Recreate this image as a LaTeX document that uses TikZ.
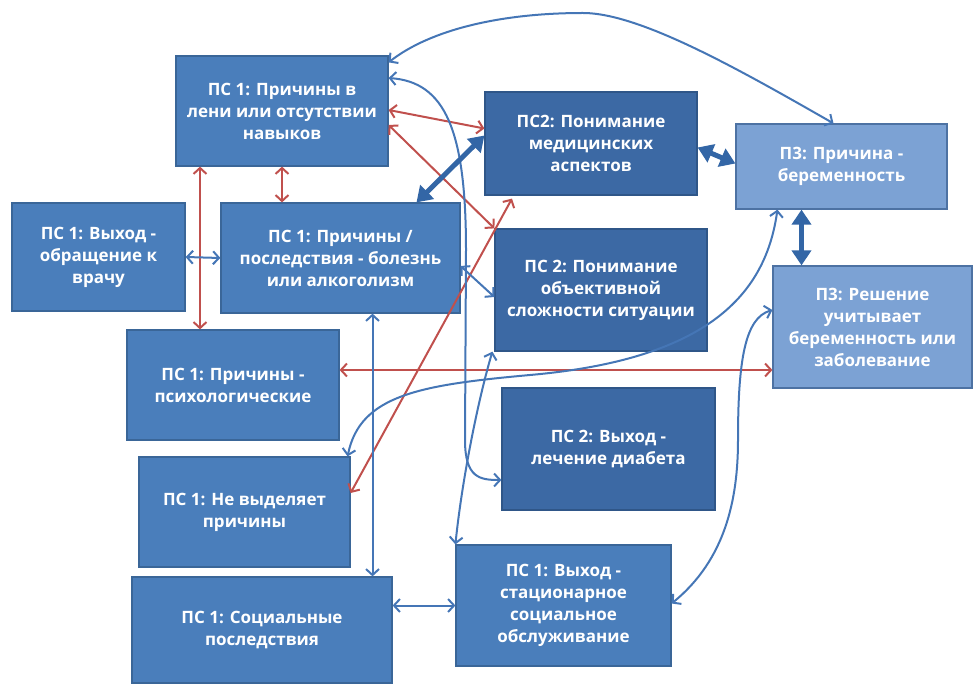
\documentclass[tikz,border=0pt]{standalone}
\usepackage{fontspec}
\setsansfont{Open Sans}
\usepackage{tikz}
\usetikzlibrary{calc}
\usetikzlibrary{arrows.meta}
\usetikzlibrary{positioning}
\definecolor{mid}{HTML}{4A7EBB}
\definecolor{midb}{HTML}{3A6698}
\definecolor{dk}{HTML}{3C69A4}
\definecolor{dkb}{HTML}{2F5688}
\definecolor{lt}{HTML}{7CA2D4}
\definecolor{ltb}{HTML}{4D72A3}
\definecolor{rd}{HTML}{C0504D}
\definecolor{ln}{HTML}{4576B6}
\definecolor{thk}{HTML}{3366A6}
\tikzset{PS/.style={rectangle,fill=mid,draw=midb,line width=1.2pt,text=white,align=center,inner sep=2pt,font=\sffamily\bfseries\fontsize{17}{22}\selectfont}}
\tikzset{PSd/.style={PS,fill=dk,draw=dkb}}
\tikzset{P3/.style={PS,fill=lt,draw=ltb}}
\tikzset{ra/.style={draw=rd,line width=2pt,{Straight Barb[length=6pt,width=13pt]}-{Straight Barb[length=6pt,width=13pt]}}}
\tikzset{ba/.style={draw=ln,line width=2pt,{Straight Barb[length=6pt,width=13pt]}-{Straight Barb[length=6pt,width=13pt]}}}
\tikzset{BA/.style={draw=thk,line width=5pt,{Triangle[length=15pt,width=19pt]}-{Triangle[length=15pt,width=19pt]}}}

\begin{document}
\begin{tikzpicture}[x=1pt,y=-1pt]
\useasboundingbox (0,0) rectangle (974,684);

\node[PS,minimum width=212pt,minimum height=110pt] (A) at (282,111) {ПС 1: Причины в\\лени или отсутствии\\навыков};
\node[PS,minimum width=173pt,minimum height=108pt] (B) at (98.5,257) {ПС 1: Выход -\\обращение к\\врачу};
\node[PS,minimum width=239pt,minimum height=110pt] (C) at (340.5,258) {ПС 1: Причины /\\последствия - болезнь\\или алкоголизм};
\node[PSd,minimum width=212pt,minimum height=103pt] (D) at (591,143.5) {ПС2: Понимание\\медицинских\\аспектов};
\node[PSd,minimum width=212pt,minimum height=122pt] (E) at (601,290) {ПС 2: Понимание\\объективной\\сложности ситуации};
\node[P3,minimum width=211pt,minimum height=85pt] (F) at (841.5,166.5) {П3: Причина -\\беременность};
\node[P3,minimum width=199pt,minimum height=122pt] (G) at (872.5,327) {П3: Решение\\учитывает\\беременность или\\заболевание};
\node[PS,minimum width=212pt,minimum height=110pt] (H) at (233,385) {ПС 1: Причины -\\психологические};
\node[PS,minimum width=211pt,minimum height=110pt] (I) at (244.5,512) {ПС 1: Не выделяет\\причины};
\node[PS,minimum width=260pt,minimum height=106pt] (J) at (262,630) {ПС 1: Социальные\\последствия};
\node[PSd,minimum width=213pt,minimum height=122pt] (K) at (608.5,449) {ПС 2: Выход -\\лечение диабета};
\node[PS,minimum width=215pt,minimum height=121pt] (L) at (563.5,605.5) {ПС 1: Выход -\\стационарное\\социальное\\обслуживание};

% red links
\draw[ra] ([yshift=1pt]A.east) -- ([yshift=15pt]D.west);
\draw[ra] ([yshift=-14pt]A.east) -- (E.north west);
\draw[ra] (A.south) -- (A.south |- C.north);
\coordinate (a4) at ([xshift=-82pt]A.south);
\draw[ra] (a4) -- (a4 |- H.north);
\coordinate (h5) at ([yshift=15pt]H.east);
\draw[ra] (h5) -- (h5 -| G.west);
\draw[ra] ([yshift=19pt]I.east) -- ([xshift=-79pt,yshift=-3pt]D.south);

% blue links
\draw[ba] (B.east) -- (C.west);
\coordinate (c2) at ([xshift=32pt]C.south);
\draw[ba] (c2) -- (c2 |- J.north);
\draw[ba] (L.west -| J.east) -- (L.west);
\draw[ba] ([yshift=-8pt]C.east) -- ([yshift=-7pt]E.west);
\draw[ba] ([yshift=-7pt]A.north east) .. controls (430,30) and (500,13) .. (583,13) .. controls (640,13) and (740,70) .. ([xshift=-8pt]F.north);
\draw[ba] ([yshift=33pt]A.east) .. controls (445,82) and (466,130) .. (466,250) -- (465,440) .. controls (465,478) and (480,480) .. ([yshift=-31pt]K.west);
\draw[ba] ([xshift=-2pt]E.south west) .. controls (478,400) and (462,480) .. (L.north west);
\draw[ba] ([xshift=-3pt]I.north east) .. controls (360,395) and (420,385) .. (530,375) .. controls (700,360) and (765,300) .. ([xshift=42pt]F.south west);
\draw[ba] ([yshift=2pt]L.east) .. controls (725,560) and (738,500) .. (738,440) .. controls (738,360) and (745,318) .. ([yshift=17pt]G.west);

% thick links
\draw[BA] ([xshift=76pt]C.north) -- ([yshift=8pt]D.west);
\draw[BA] ([yshift=-4pt]D.east) -- ([yshift=3pt]F.west);
\coordinate (f10) at ([xshift=-40pt]F.south);
\draw[BA] (f10) -- (f10 |- G.north);

\end{tikzpicture}
\end{document}
